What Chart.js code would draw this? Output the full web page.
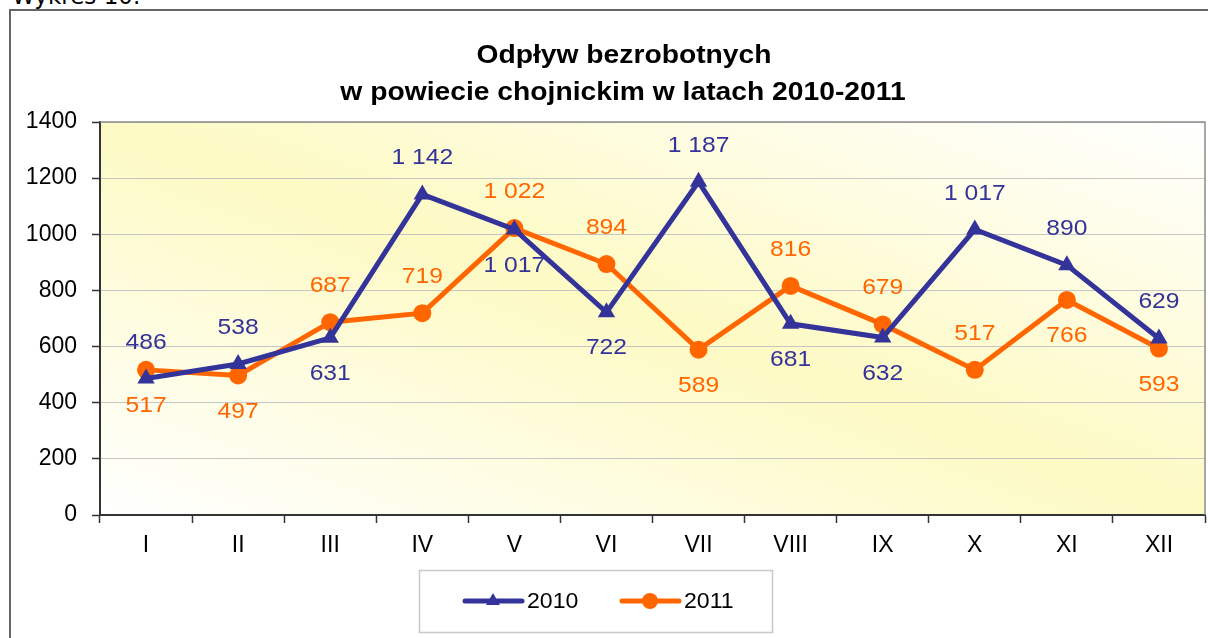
<!DOCTYPE html>
<html>
<head>
<meta charset="utf-8">
<script src="https://cdn.jsdelivr.net/npm/chart.js@4"></script>
<style>
  body { margin: 0; background: #fff; overflow: hidden; }
  #caption { position: absolute; left: 12px; top: -15px; font: 23px/23px "DejaVu Sans", sans-serif; color: #000; }
  #frame { position: absolute; left: 9px; top: 9px; width: 1300px; height: 700px; border: 2px solid #666; }
  #chart { position: absolute; left: 0; top: 0; }
</style>
</head>
<body>
<div id="caption">Wykres 10.</div>
<div id="frame"></div>
<canvas id="chart" width="1208" height="638"></canvas>
<script>
// months on the x axis
const months = ["I", "II", "III", "IV", "V", "VI", "VII", "VIII", "IX", "X", "XI", "XII"];

// outflow of unemployed per month
const values2010 = [486, 538, 631, 1142, 1017, 722, 1187, 681, 632, 1017, 890, 629];
const values2011 = [517, 497, 687, 719, 1022, 894, 589, 816, 679, 517, 766, 593];

// y axis ticks
const yTicks = [0, 200, 400, 600, 800, 1000, 1200, 1400];

// where the value label sits: above or below the point
const side2010 = ["up", "up", "down", "up", "down", "down", "up", "down", "down", "up", "up", "up"];
const side2011 = ["down", "down", "up", "up", "up", "up", "down", "up", "up", "up", "down", "down"];

const titleLines = ["Odpływ bezrobotnych", "w powiecie chojnickim w latach 2010-2011"];

const FONT = '"Liberation Sans", Arial, sans-serif';

// 1142 -> "1 142"
function formatValue(v) {
  if (v < 1000) return String(v);
  return Math.floor(v / 1000) + " " + String(v % 1000).padStart(3, "0");
}

// text a bit wider than the font, like the original picture
function wideText(ctx, text, x, y, sx) {
  ctx.save();
  ctx.translate(x, y);
  ctx.scale(sx, 1);
  ctx.fillText(text, 0, 0);
  ctx.restore();
}

// yellow diagonal gradient + gray frame of the plot area
const plotBackground = {
  id: "plotBackground",
  beforeDraw(chart) {
    const { ctx, chartArea: a } = chart;
    ctx.save();
    ctx.translate(a.left, a.top);
    ctx.scale(a.right - a.left, a.bottom - a.top);
    const g = ctx.createLinearGradient(0, 1, 1, 0);
    g.addColorStop(0, "#ffffff");
    g.addColorStop(0.5, "#fdfac4");
    g.addColorStop(1, "#ffffff");
    ctx.fillStyle = g;
    ctx.fillRect(0, 0, 1, 1);
    ctx.restore();

    // title
    ctx.save();
    ctx.fillStyle = "#000";
    ctx.font = "bold 25px " + FONT;
    ctx.textAlign = "center";
    ctx.textBaseline = "middle";
    wideText(ctx, titleLines[0], 624, 56, 1.13);
    wideText(ctx, titleLines[1], 623, 93, 1.13);
    ctx.restore();
  },
  beforeDatasetsDraw(chart) {
    const { ctx, chartArea: a } = chart;
    ctx.save();
    ctx.strokeStyle = "#8c8c8c";
    ctx.lineWidth = 1.5;
    ctx.beginPath();
    ctx.moveTo(a.left, a.top);
    ctx.lineTo(a.right, a.top);
    ctx.lineTo(a.right, a.bottom);
    ctx.stroke();
    ctx.restore();
  },
};

// numbers next to the points
const valueLabels = {
  id: "valueLabels",
  afterDatasetsDraw(chart) {
    const ctx = chart.ctx;
    ctx.save();
    ctx.font = "22px " + FONT;
    ctx.textAlign = "center";
    ctx.textBaseline = "middle";
    chart.data.datasets.forEach((ds, i) => {
      const meta = chart.getDatasetMeta(i);
      ctx.fillStyle = ds.borderColor;
      meta.data.forEach((pt, j) => {
        const dy = ds.labelSide[j] === "up" ? -36 : 36;
        wideText(ctx, formatValue(ds.data[j]), pt.x, pt.y + dy, 1.12);
      });
    });
    ctx.restore();
  },
};

// legend in a box under the chart
const boxLegend = {
  id: "boxLegend",
  afterDraw(chart) {
    const ctx = chart.ctx;
    ctx.save();
    ctx.fillStyle = "#fff";
    ctx.strokeStyle = "#c8c8c8";
    ctx.lineWidth = 1.5;
    ctx.fillRect(419.5, 570.5, 353, 62);
    ctx.strokeRect(419.5, 570.5, 353, 62);

    const y = 601;
    const starts = [465, 622];
    ctx.font = "22px " + FONT;
    ctx.textBaseline = "middle";
    chart.data.datasets.forEach((ds, i) => {
      const x0 = starts[i];
      ctx.strokeStyle = ds.borderColor;
      ctx.lineWidth = 5;
      ctx.lineCap = "round";
      ctx.beginPath();
      ctx.moveTo(x0, y);
      ctx.lineTo(x0 + 57, y);
      ctx.stroke();
      ctx.fillStyle = ds.borderColor;
      Chart.helpers.drawPoint(ctx, { pointStyle: ds.pointStyle, radius: 8, rotation: 0, borderWidth: 0 }, x0 + 28, y);
      ctx.fillStyle = "#000";
      wideText(ctx, ds.label, x0 + 62, y + 1, 1.05);
    });
    ctx.restore();
  },
};

new Chart(document.getElementById("chart"), {
  type: "line",
  data: {
    labels: months,
    datasets: [
      {
        label: "2010",
        data: values2010,
        labelSide: side2010,
        borderColor: "#333399",
        backgroundColor: "#333399",
        borderWidth: 5,
        pointStyle: "triangle",
        pointRadius: 10,
        pointBorderWidth: 0,
        tension: 0,
      },
      {
        label: "2011",
        data: values2011,
        labelSide: side2011,
        borderColor: "#ff6600",
        backgroundColor: "#ff6600",
        borderWidth: 5,
        pointStyle: "circle",
        pointRadius: 9,
        pointBorderWidth: 0,
        tension: 0,
      },
    ],
  },
  options: {
    responsive: false,
    animation: false,
    layout: { autoPadding: false, padding: { left: 0, right: 3, top: 122, bottom: 83 } },
    plugins: {
      legend: { display: false },
      tooltip: { enabled: false },
      title: { display: false },
    },
    scales: {
      x: {
        offset: true,
        grid: { offset: true, drawOnChartArea: false, tickLength: 8, tickColor: "#333", tickWidth: 1.5 },
        border: { color: "#333", width: 2 },
        ticks: { color: "#000", font: { family: FONT, size: 23 }, padding: 9, maxRotation: 0, autoSkip: false },
        afterFit(scale) {
          scale.height = 40;
          scale.paddingLeft = 0;
          scale.paddingRight = 0;
        },
      },
      y: {
        min: 0,
        max: 1400,
        afterBuildTicks(scale) { scale.ticks = yTicks.map((v) => ({ value: v })); },
        grid: { color: "#c6c6c6", lineWidth: 1, tickLength: 8, tickColor: "#333", tickWidth: 1.5 },
        border: { color: "#333", width: 2 },
        ticks: { color: "#000", font: { family: FONT, size: 23 }, padding: 15, callback: (v) => String(v) },
        afterFit(scale) { scale.width = 100; },
      },
    },
  },
  plugins: [plotBackground, valueLabels, boxLegend],
});
</script>
</body>
</html>
